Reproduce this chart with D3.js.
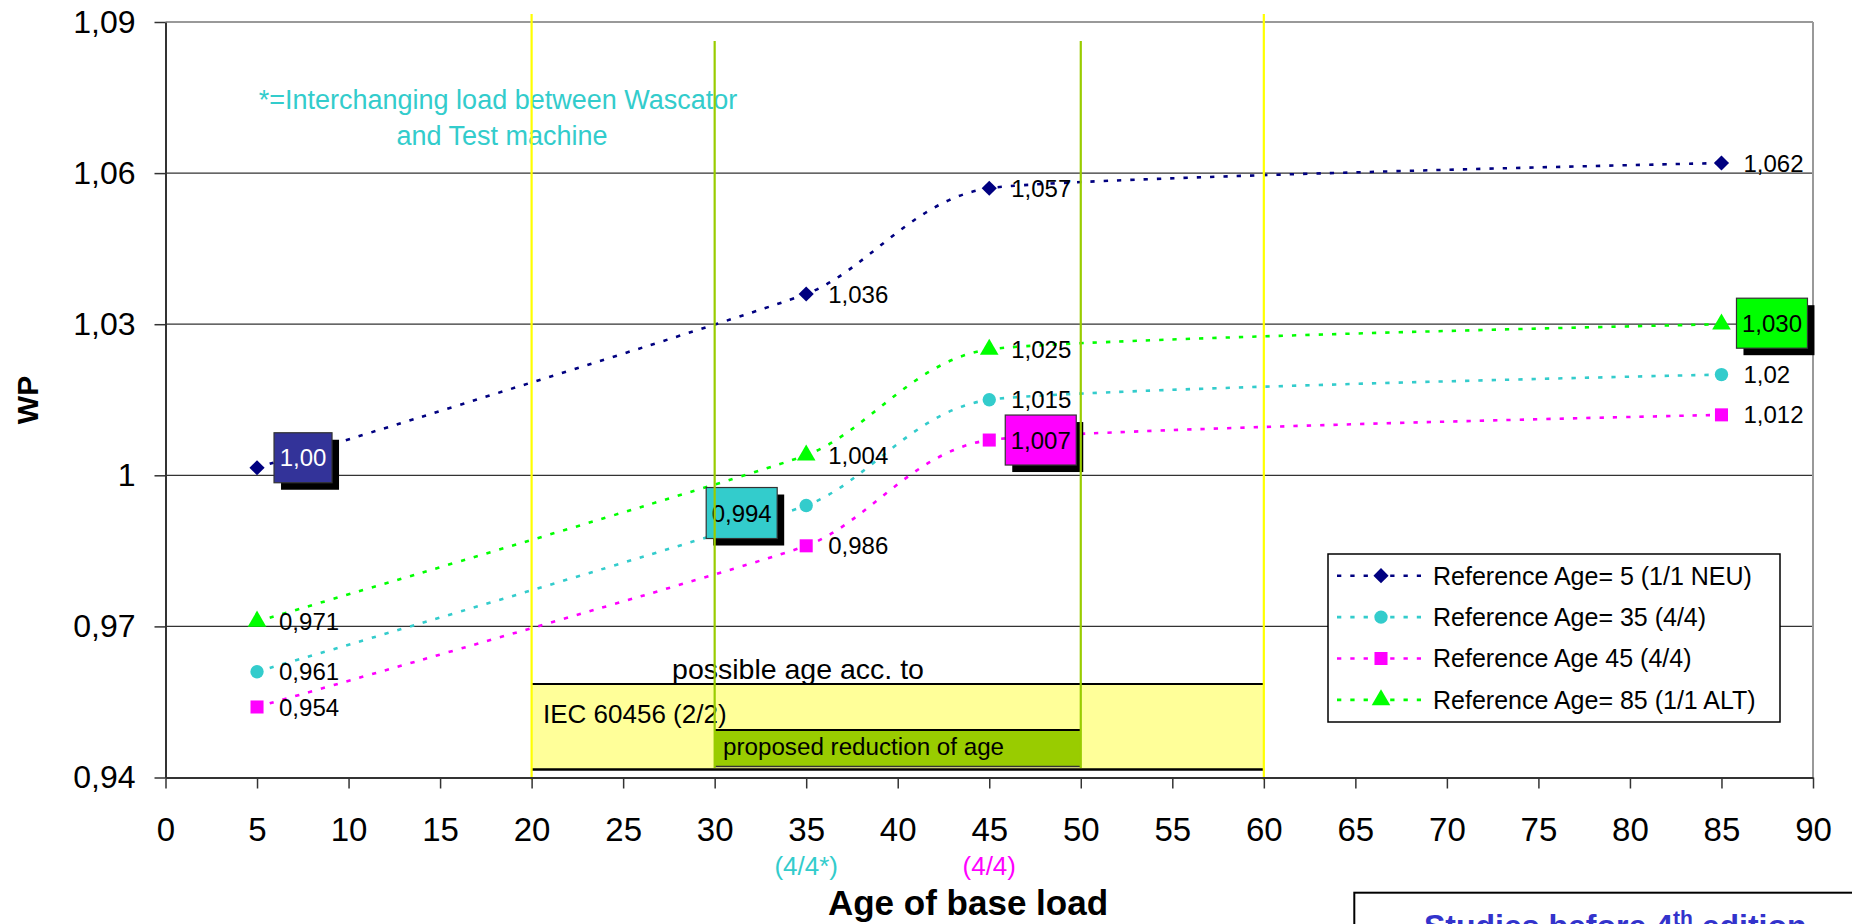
<!DOCTYPE html>
<html><head><meta charset="utf-8">
<script src="https://cdn.jsdelivr.net/npm/d3@7"></script>
<style>html,body{margin:0;padding:0;background:#fff;overflow:hidden}svg{display:block;font-family:"Liberation Sans",Arial,sans-serif}</style>
</head><body>
<script>
// ---- data ----
const ages = [5, 35, 45, 85];
const ref5  = [1.0015, 1.036, 1.057, 1.062];
const ref35 = [0.961, 0.994, 1.015, 1.020];
const ref45 = [0.954, 0.986, 1.007, 1.012];
const ref85 = [0.971, 1.004, 1.025, 1.030];
const lab5  = ["1,00", "1,036", "1,057", "1,062"];
const lab35 = ["0,961", "0,994", "1,015", "1,02"];
const lab45 = ["0,954", "0,986", "1,007", "1,012"];
const lab85 = ["0,971", "1,004", "1,025", "1,030"];
const seriesNames = ["Reference Age= 5 (1/1 NEU)", "Reference Age= 35 (4/4)", "Reference Age 45 (4/4)", "Reference Age= 85 (1/1 ALT)"];
const xTicks = [0,5,10,15,20,25,30,35,40,45,50,55,60,65,70,75,80,85,90];
const yTicks = [0.94, 0.97, 1.00, 1.03, 1.06, 1.09];
const yTickLabels = ["0,94", "0,97", "1", "1,03", "1,06", "1,09"];
const gridValues = [0.97, 1.00, 1.03, 1.06];
const iecRange = [20, 60];
const proposedRange = [30, 50];
const subLabelAges = [35, 45];
const subLabels = ["(4/4*)", "(4/4)"];

// ---- styles ----
const colors = ["#000080", "#33CCCC", "#FF00FF", "#00FF00"];
const boxFill = ["#333399", "#33CCCC", "#FF00FF", "#00FF00"];
const boxText = ["#ffffff", "#000000", "#000000", "#000000"];
const boxIndex = [0, 1, 2, 3];               // which point gets a boxed label
const boxGeom = [[17,-35,58,50],[-100,-18,71,51],[16,-25,71,50],[15,-26,71,50]]; // dx,dy,w,h
const symbols = [d3.symbolSquare, d3.symbolCircle, d3.symbolSquare, d3.symbolTriangle];
const symRot = [45, 0, 0, 0];
const symSize = [115, 140, 170, 150];

const W = 1852, H = 924;
const L = 165.5, R = 1813, T = 22, B = 777.5;
const x = d3.scaleLinear().domain([0, 90]).range([L, R]);
const y = d3.scaleLinear().domain([0.94, 1.09]).range([B, T]);

const svg = d3.select("body").append("svg").attr("width", W).attr("height", H);
svg.append("rect").attr("width", W).attr("height", H).attr("fill", "#fff");

// gridlines
svg.append("g").selectAll("line").data(gridValues).join("line")
  .attr("x1", L).attr("x2", R).attr("y1", d => y(d)).attr("y2", d => y(d))
  .attr("stroke", "#333").attr("stroke-width", 1.3);
// frame top/right
svg.append("line").attr("x1", L).attr("x2", R).attr("y1", T).attr("y2", T).attr("stroke", "#999").attr("stroke-width", 2);
svg.append("line").attr("x1", R).attr("x2", R).attr("y1", T).attr("y2", B).attr("stroke", "#999").attr("stroke-width", 2);

// IEC box
const gb = svg.append("g");
gb.append("rect").attr("x", x(iecRange[0])).attr("y", 684).attr("width", x(iecRange[1]) - x(iecRange[0])).attr("height", 85).attr("fill", "#FFFF99");
gb.append("line").attr("x1", x(iecRange[0])).attr("x2", x(iecRange[1])).attr("y1", 684).attr("y2", 684).attr("stroke", "#000").attr("stroke-width", 2.2);
gb.append("line").attr("x1", x(iecRange[0])).attr("x2", x(iecRange[1])).attr("y1", 769.5).attr("y2", 769.5).attr("stroke", "#000").attr("stroke-width", 2.5);
gb.append("rect").attr("x", x(proposedRange[0])).attr("y", 730).attr("width", x(proposedRange[1]) - x(proposedRange[0])).attr("height", 37).attr("fill", "#99CC00");
gb.append("line").attr("x1", x(proposedRange[0])).attr("x2", x(proposedRange[1])).attr("y1", 730).attr("y2", 730).attr("stroke", "#000").attr("stroke-width", 2);
gb.append("line").attr("x1", x(proposedRange[0])).attr("x2", x(proposedRange[1])).attr("y1", 766.5).attr("y2", 766.5).attr("stroke", "#333").attr("stroke-width", 1.5);
gb.append("text").attr("x", 798).attr("y", 679).attr("text-anchor", "middle").attr("font-size", 28.5).text("possible age acc. to");
gb.append("text").attr("x", 543).attr("y", 722.5).attr("font-size", 26).text("IEC 60456 (2/2)");
gb.append("text").attr("x", 723).attr("y", 755).attr("font-size", 24.2).text("proposed reduction of age");

// annotation
const ann = svg.append("g").attr("fill", "#33CCCC").attr("font-size", 27).attr("text-anchor", "middle");
ann.append("text").attr("x", 498).attr("y", 109).text("*=Interchanging load between Wascator");
ann.append("text").attr("x", 502).attr("y", 145).text("and Test machine");

// series
const allSeries = [ref5, ref35, ref45, ref85];
const allLabels = [lab5, lab35, lab45, lab85];
const line = d3.line().x((d, i) => x(ages[i])).y(d => y(d)).curve(d3.curveCardinal.tension(0.5));
allSeries.forEach((s, k) => {
  svg.append("path").attr("d", line(s)).attr("fill", "none").attr("stroke", colors[k])
    .attr("stroke-width", 2.6).attr("stroke-dasharray", "4.3 9");
});
allSeries.forEach((s, k) => {
  svg.append("g").selectAll("path").data(s).join("path")
    .attr("transform", (d, i) => `translate(${x(ages[i])},${y(d)}) rotate(${symRot[k]})`)
    .attr("d", d3.symbol().type(symbols[k]).size(symSize[k])).attr("fill", colors[k]);
});
// labels
allSeries.forEach((s, k) => {
  s.forEach((v, i) => {
    const px = x(ages[i]), py = y(v);
    if (i === boxIndex[k]) {
      const [dx, dy, w, h] = boxGeom[k];
      svg.append("rect").attr("x", px + dx + 7).attr("y", py + dy + 7).attr("width", w).attr("height", h).attr("fill", "#000");
      svg.append("rect").attr("x", px + dx).attr("y", py + dy).attr("width", w).attr("height", h)
        .attr("fill", boxFill[k]).attr("stroke", "#333").attr("stroke-width", 1.2);
      svg.append("text").attr("x", px + dx + w / 2).attr("y", py + dy + h / 2 + 8.6).attr("text-anchor", "middle")
        .attr("font-size", 24).attr("fill", boxText[k]).text(allLabels[k][i]);
    } else {
      svg.append("text").attr("x", px + 22).attr("y", py + 8.6).attr("font-size", 24).attr("fill", "#000").text(allLabels[k][i]);
    }
  });
});

// vertical range lines
[iecRange[0], iecRange[1]].forEach(v => svg.append("line").attr("x1", x(v)).attr("x2", x(v)).attr("y1", 14).attr("y2", 780).attr("stroke", "#FFFF00").attr("stroke-width", 2.2));
[proposedRange[0], proposedRange[1]].forEach(v => svg.append("line").attr("x1", x(v)).attr("x2", x(v)).attr("y1", 41).attr("y2", 768).attr("stroke", "#99CC00").attr("stroke-width", 2.2));

// legend
const lg = svg.append("g");
lg.append("rect").attr("x", 1328).attr("y", 554).attr("width", 452).attr("height", 168).attr("fill", "#fff").attr("stroke", "#000").attr("stroke-width", 1.5);
seriesNames.forEach((n, k) => {
  const cy = 575.7 + k * 41.4;
  lg.append("line").attr("x1", 1337).attr("x2", 1421).attr("y1", cy).attr("y2", cy).attr("stroke", colors[k]).attr("stroke-width", 2.6).attr("stroke-dasharray", "4.3 9");
  lg.append("path").attr("transform", `translate(1381,${cy}) rotate(${symRot[k]})`).attr("d", d3.symbol().type(symbols[k]).size(symSize[k])).attr("fill", colors[k]);
  lg.append("text").attr("x", 1433).attr("y", cy + 8.8).attr("font-size", 25).text(n);
});

// axes
const ay = svg.append("g").attr("transform", `translate(${L},0)`)
  .call(d3.axisLeft(y).tickValues(yTicks).tickSize(11).tickSizeOuter(0).tickPadding(19).tickFormat((d, i) => yTickLabels[i]));
const ax = svg.append("g").attr("transform", `translate(0,${B})`)
  .call(d3.axisBottom(x).tickValues(xTicks).tickSize(11).tickSizeOuter(0).tickPadding(29.5).tickFormat(d3.format("d")));
[ay, ax].forEach(g => {
  g.selectAll("path.domain").attr("stroke", "#333").attr("stroke-width", 2);
  g.selectAll(".tick line").attr("stroke", "#333").attr("stroke-width", 1.5);
  g.selectAll("text").attr("fill", "#000").attr("font-family", "Liberation Sans, Arial, sans-serif");
});
ay.selectAll("text").attr("font-size", 32);
ax.selectAll("text").attr("font-size", 33);

// sub labels
const subColors = [colors[1], colors[2]];
subLabels.forEach((t, i) => svg.append("text").attr("x", x(subLabelAges[i])).attr("y", 875).attr("text-anchor", "middle")
  .attr("font-size", 26).attr("fill", subColors[i]).text(t));

// axis titles
svg.append("text").attr("x", 968).attr("y", 915).attr("text-anchor", "middle").attr("font-size", 35).attr("font-weight", "bold").text("Age of base load");
svg.append("text").attr("transform", "translate(38,400) rotate(-90)").attr("text-anchor", "middle").attr("font-size", 30).attr("font-weight", "bold").text("WP");

// bottom-right box (cut by the page edge as in the reference)
svg.append("rect").attr("x", 1354.3).attr("y", 892.7).attr("width", 600).attr("height", 100).attr("fill", "#fff").attr("stroke", "#000").attr("stroke-width", 2);
const st = svg.append("text").attr("x", 1424).attr("y", 937).attr("font-size", 32).attr("font-weight", "bold").attr("fill", "#3333CC");
st.append("tspan").text("Studies before 4");
st.append("tspan").attr("font-size", 21).attr("dy", -12).text("th");
st.append("tspan").attr("dy", 12).text(" edition");
</script>
</body></html>
